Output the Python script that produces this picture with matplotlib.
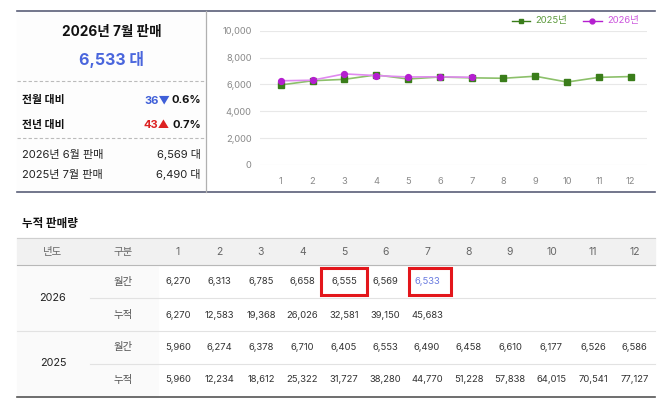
import matplotlib
matplotlib.use("Agg")
import matplotlib.pyplot as plt
from matplotlib.patches import Rectangle

plt.rcParams['font.family'] = ['Inter', 'Noto Sans CJK KR', 'DejaVu Sans']

months = [1, 2, 3, 4, 5, 6, 7, 8, 9, 10, 11, 12]
sales_2026 = [6270, 6313, 6785, 6658, 6555, 6569, 6533]
sales_2025 = [5960, 6274, 6378, 6710, 6405, 6553, 6490, 6458, 6610, 6177, 6526, 6586]
cum_2026 = [6270, 12583, 19368, 26026, 32581, 39150, 45683]
cum_2025 = [5960, 12234, 18612, 25322, 31727, 38280, 44770, 51228, 57838, 64015, 70541, 77127]
yticks = [0, 2000, 4000, 6000, 8000, 10000]

W, H = 669, 404
fig = plt.figure(figsize=(W / 100, H / 100), dpi=100)
bg = fig.add_axes([0, 0, 1, 1])
bg.set_xlim(0, W)
bg.set_ylim(H, 0)
bg.axis('off')

# ---- summary panel
bg.add_patch(Rectangle((17, 11), 189, 181, color='#fdfdfd', zorder=0))
bg.plot([17, 655], [11, 11], color='#5a5f78', lw=1.2)
bg.plot([17, 655], [192, 192], color='#5a5f78', lw=1.2)
bg.plot([206, 206], [11, 192], color='#b0b0b0', lw=0.9)
bg.plot([17, 206], [81, 81], color='#bbbbbb', lw=0.8, ls=(0, (3, 2)))
bg.plot([17, 206], [138, 138], color='#bbbbbb', lw=0.8, ls=(0, (3, 2)))

bg.text(112, 32, '2026년 7월 판매', ha='center', va='center', fontsize=9.8,
        fontweight='bold', color='#111111')
bg.text(112, 60, '6,533 대', ha='center', va='center', fontsize=11.5,
        fontweight='bold', color='#4a66dd')

bg.text(22, 100, '전월 대비', ha='left', va='center', fontsize=7.8, fontweight='bold', color='#111111')
bg.text(201, 100, '0.6%', ha='right', va='center', fontsize=8, fontweight='bold', color='#111111')
bg.text(170, 100, '36▼', ha='right', va='center', fontsize=8, fontweight='bold', color='#3f5fd8')
bg.text(22, 125, '전년 대비', ha='left', va='center', fontsize=7.8, fontweight='bold', color='#111111')
bg.text(201, 125, '0.7%', ha='right', va='center', fontsize=8, fontweight='bold', color='#111111')
bg.text(170, 125, '43▲', ha='right', va='center', fontsize=8, fontweight='bold', color='#dd2222')

bg.text(22, 155, '2026년 6월 판매', ha='left', va='center', fontsize=8, color='#222222')
bg.text(201, 155, '6,569 대', ha='right', va='center', fontsize=8, color='#222222')
bg.text(22, 175, '2025년 7월 판매', ha='left', va='center', fontsize=8, color='#222222')
bg.text(201, 175, '6,490 대', ha='right', va='center', fontsize=8, color='#222222')

# ---- line chart
ax = fig.add_axes([260 / W, 1 - 165 / H, 387 / W, (165 - 30.7) / H])
ax.plot(months, sales_2025, color='#8cc06a', lw=1.2, zorder=2)
ax.plot(months, sales_2025, ls='none', marker='s', ms=4, color='#3a7d1a', zorder=3)
ax.plot(months[:len(sales_2026)], sales_2026, color='#e08af0', lw=1.2, zorder=4)
ax.plot(months[:len(sales_2026)], sales_2026, ls='none', marker='o', ms=4.2, color='#b51fd0',
        zorder=5)
ax.set_xlim(0.35, 12.51)
ax.set_ylim(0, 10000)
ax.set_yticks(yticks)
ax.set_yticklabels([f'{v:,}' for v in yticks])
ax.set_xticks(months)
ax.grid(axis='y', color='#e8e8e8', lw=0.8)
ax.set_axisbelow(True)
for s in ax.spines.values():
    s.set_visible(False)
ax.tick_params(length=0, labelsize=6.7, labelcolor='#8a8a8a')
ax.tick_params(axis='y', pad=6)
ax.tick_params(axis='x', pad=8.5)

# legend
bg.plot([512, 530], [21, 21], color='#3a7d1a', lw=1)
bg.plot([521], [21], marker='s', ms=3.5, color='#3a7d1a')
bg.text(535, 21, '2025년', ha='left', va='center', fontsize=6.8, color='#5c9a3c')
bg.plot([583, 602], [21, 21], color='#b51fd0', lw=1)
bg.plot([592], [21], marker='o', ms=3.5, color='#b51fd0')
bg.text(607, 21, '2026년', ha='left', va='center', fontsize=6.8, color='#cc55dd')

# ---- table
bg.text(22, 224, '누적 판매량', ha='left', va='center', fontsize=8.3, fontweight='bold', color='#111111')
bg.add_patch(Rectangle((17, 238), 638, 27, color='#f1f1f1', zorder=0))
bg.add_patch(Rectangle((17, 265), 141, 132, color='#fafafa', zorder=0))
bg.plot([17, 655], [238, 238], color='#cfcfcf', lw=0.8)
bg.plot([17, 655], [265, 265], color='#b8b8b8', lw=0.8)
bg.plot([90, 655], [298, 298], color='#e2e2e2', lw=0.8)
bg.plot([17, 655], [331, 331], color='#e2e2e2', lw=0.8)
bg.plot([90, 655], [364, 364], color='#e2e2e2', lw=0.8)
bg.plot([17, 655], [397, 397], color='#555555', lw=1.2)

col_x = [178 + i * 41.5 for i in range(12)]
hdr_y = 252
bg.text(53, hdr_y, '년도', ha='center', va='center', fontsize=7.5, color='#666666')
bg.text(123, hdr_y, '구분', ha='center', va='center', fontsize=7.5, color='#666666')
for x, m in zip(col_x, months):
    bg.text(x, hdr_y, str(m), ha='center', va='center', fontsize=7.5, color='#666666')

bg.text(53, 298, '2026', ha='center', va='center', fontsize=7.8, color='#222222')
bg.text(53, 363, '2025', ha='center', va='center', fontsize=7.8, color='#222222')
rows = [(282, '월간', sales_2026), (315, '누적', cum_2026),
        (347, '월간', sales_2025), (380, '누적', cum_2025)]
for y, name, vals in rows:
    bg.text(123, y, name, ha='center', va='center', fontsize=7.5, color='#555555')
    for i, v in enumerate(vals):
        c = '#6a7be0' if (vals is sales_2026 and i == 6) else '#333333'
        bg.text(col_x[i], y, f'{v:,}', ha='center', va='center', fontsize=6.8, color=c)

bg.add_patch(Rectangle((321, 268), 46, 27, fill=False, ec='#e3161b', lw=2.2))
bg.add_patch(Rectangle((409, 268), 42, 27, fill=False, ec='#e3161b', lw=2.2))

fig.savefig('out.png', dpi=100)
